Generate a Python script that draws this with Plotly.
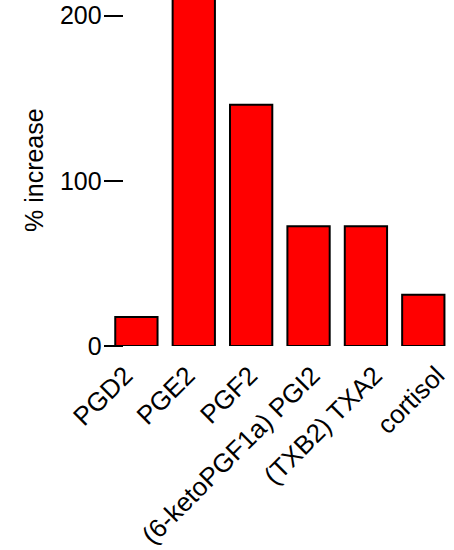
import plotly.graph_objects as go

categories = ["PGD2", "PGE2", "PGF2", "(6-ketoPGF1a) PGI2", "(TXB2) TXA2", "cortisol"]
values = [17.5, 210, 146, 72.5, 72.5, 31]
y_ticks = [0, 100, 200]

W, H = 454, 550
FONT = "Liberation Sans, Arial, sans-serif"
FS = 25

fig = go.Figure()
fig.add_trace(
    go.Bar(
        x=categories,
        y=values,
        marker=dict(color="#FF0000", line=dict(color="black", width=2)),
        hoverinfo="x+y",
    )
)
# label carrier on a second x axis (labels are spaced slightly wider than bars)
fig.add_trace(
    go.Scatter(
        x=categories,
        y=[None] * len(categories),
        xaxis="x2",
        mode="markers",
        showlegend=False,
        hoverinfo="skip",
    )
)

plot_bottom = 346
dom_left, dom_right = 107.7, 452
label_step = 62.4
label_first = 125
r0 = -(label_first - dom_left) / label_step
r1 = r0 + (dom_right - dom_left) / label_step

fig.update_layout(
    width=W,
    height=H,
    margin=dict(l=0, r=0, t=0, b=H - plot_bottom, autoexpand=False),
    paper_bgcolor="white",
    plot_bgcolor="white",
    bargap=0.263,
    showlegend=False,
    font=dict(family=FONT, size=FS, color="black"),
    xaxis=dict(
        domain=[dom_left / W, dom_right / W],
        automargin=False,
        showline=False,
        showgrid=False,
        zeroline=False,
        ticks="",
        showticklabels=False,
    ),
    xaxis2=dict(
        range=[r0, r1],
        overlaying="x",
        anchor="y",
        side="bottom",
        automargin=False,
        showline=False,
        showgrid=False,
        zeroline=False,
        ticks="",
        tickangle=-45,
        ticklabelstandoff=8,
        tickfont=dict(family=FONT, size=26, color="black"),
    ),
    yaxis=dict(
        range=[0, plot_bottom / 1.652],
        automargin=False,
        anchor="free",
        position=122.7 / W,
        showline=False,
        showgrid=False,
        zeroline=False,
        ticks="outside",
        ticklen=19,
        tickwidth=1.5,
        tickcolor="black",
        tickvals=y_ticks,
        ticklabelstandoff=-3,
        tickfont=dict(family=FONT, size=FS, color="black"),
    ),
    annotations=[
        dict(
            text="% increase",
            x=34 / W,
            y=1 - 170 / plot_bottom,
            xref="paper",
            yref="paper",
            textangle=-90,
            showarrow=False,
            xanchor="center",
            yanchor="middle",
            font=dict(family=FONT, size=FS, color="black"),
        )
    ],
)

fig.write_html(
    "out.html",
    config={"displayModeBar": False},
    post_script="document.body.style.margin='0';",
)
